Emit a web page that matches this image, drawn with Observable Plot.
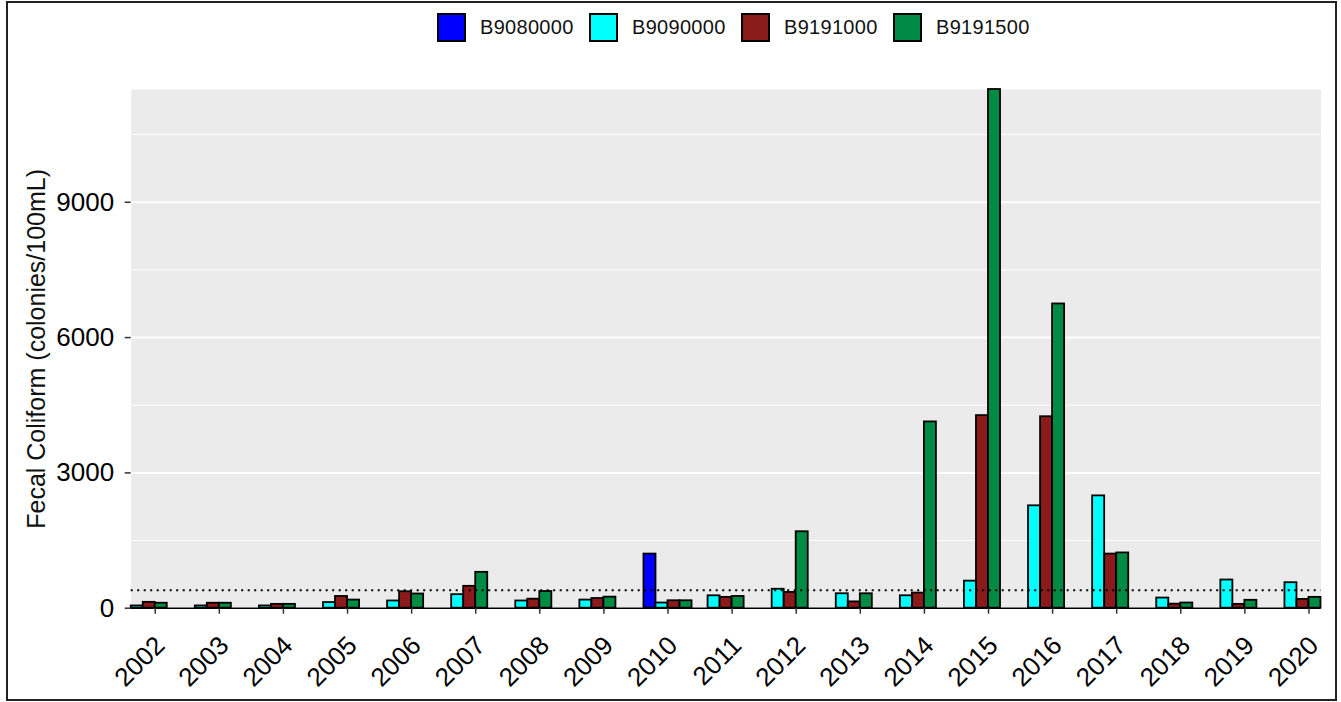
<!DOCTYPE html>
<html><head><meta charset="utf-8">
<script src="https://cdn.jsdelivr.net/npm/d3@7"></script>
<script src="https://cdn.jsdelivr.net/npm/@observablehq/plot@0.6"></script>
<style>
body{margin:0;background:#fff;font-family:"Liberation Sans",Arial,sans-serif;}
#wrap{position:relative;width:1341px;height:702px;overflow:hidden;}
#border{position:absolute;left:6px;top:1px;width:1331px;height:700px;box-sizing:border-box;border:2px solid #222;pointer-events:none;}
#legend{position:absolute;left:437px;top:0;height:54px;display:flex;align-items:center;font-size:20px;color:#111;white-space:nowrap;}
#legend .sw{width:29px;height:29px;box-sizing:border-box;border:2px solid #000;margin-right:14px;}
#legend .lb{width:93px;margin-right:16px;letter-spacing:0.3px;}
#chart{position:absolute;left:0;top:60px;}
</style>
</head><body>
<div id="wrap"><div id="legend"></div><div id="chart"></div><div id="border"></div></div>
<script>
const years = [2002,2003,2004,2005,2006,2007,2008,2009,2010,2011,2012,2013,2014,2015,2016,2017,2018,2019,2020];
const stations = ["B9080000","B9090000","B9191000","B9191500"];
const colors = ["#0000FF","#00FFFF","#8B1A1A","#008B45"];
const b9080000 = [null,null,null,null,null,null,null,null,1200,null,null,null,null,null,null,null,null,null,null];
const b9090000 = [50,50,50,125,160,300,160,180,115,275,420,320,275,600,2270,2490,225,625,565];
const b9191000 = [130,110,85,260,365,485,200,215,165,240,350,140,335,4270,4245,1200,90,85,195];
const b9191500 = [110,110,85,180,315,795,370,245,165,260,1695,320,4130,11500,6745,1225,115,175,240];
const series = [b9080000,b9090000,b9191000,b9191500];
const majorTicks = [0,3000,6000,9000];
const minorTicks = [1500,4500,7500,10500];
const threshold = 400;
const yLabel = "Fecal Coliform (colonies/100mL)";

// legend
const leg = document.getElementById("legend");
stations.forEach((s,k)=>{
  const sw = document.createElement("div"); sw.className="sw"; sw.style.background=colors[k];
  const lb = document.createElement("div"); lb.className="lb"; lb.textContent=s;
  leg.appendChild(sw); leg.appendChild(lb);
});

// rows: dodge with preserve="single" (left-packed slots)
const slotW = 0.1875, groupStart = -0.375;
const rows = [];
years.forEach((yr,i)=>{
  let s = 0;
  series.forEach((arr,k)=>{
    const v = arr[i];
    if (v == null) return;
    rows.push({i, station: stations[k], value: v, slot: s++});
  });
});

const chart = Plot.plot({
  width: 1341, height: 642,
  marginLeft: 130.7, marginRight: 20.5, marginTop: 29, marginBottom: 94.3,
  style: {fontFamily: '"Liberation Sans", Arial, sans-serif', background: "transparent", color: "#000"},
  x: {domain: [groupStart, years.length - 1 + groupStart + 3*slotW], axis: null},
  y: {domain: [0, 11500], axis: null},
  color: {domain: stations, range: colors},
  marks: [
    Plot.frame({fill: "#EBEBEB", stroke: null}),
    Plot.gridY(minorTicks, {stroke: "#fff", strokeOpacity: 1, strokeWidth: 1}),
    Plot.gridY(majorTicks, {stroke: "#fff", strokeOpacity: 1, strokeWidth: 2}),
    Plot.rect(rows, {
      x1: d => d.i + groupStart + d.slot*slotW,
      x2: d => d.i + groupStart + (d.slot+1)*slotW,
      y1: 0, y2: "value", fill: "station", stroke: "#000", strokeWidth: 1.8
    }),
    Plot.ruleY([threshold], {stroke: "#000", strokeWidth: 2, strokeDasharray: "2,4.5"}),
    Plot.ruleY([0], {stroke: "#000", strokeWidth: 1.5}),
    Plot.axisY({ticks: majorTicks, tickSize: 6, tickPadding: 11, tickFormat: d => String(d),
      fontSize: 26, stroke: "#333", strokeWidth: 1.5, label: null}),
    Plot.axisX({ticks: d3.range(years.length), tickFormat: i => String(years[i]), tickSize: 6,
      tickPadding: 2, tickRotate: -45, fontSize: 26, stroke: "#333", strokeWidth: 1.5, label: null}),
    Plot.text([yLabel], {text: d => d, frameAnchor: "left", dx: -94, rotate: -90,
      textAnchor: "middle", fontSize: 25, lineAnchor: "middle", fill: "#111"})
  ]
});
// shift rotated x tick labels to sit below the ticks as in the reference
chart.querySelectorAll('[aria-label="x-axis tick label"]').forEach(g => {
  g.setAttribute("transform", (g.getAttribute("transform") || "") + " translate(5,25)");
});
document.getElementById("chart").appendChild(chart);
</script>
</body></html>
